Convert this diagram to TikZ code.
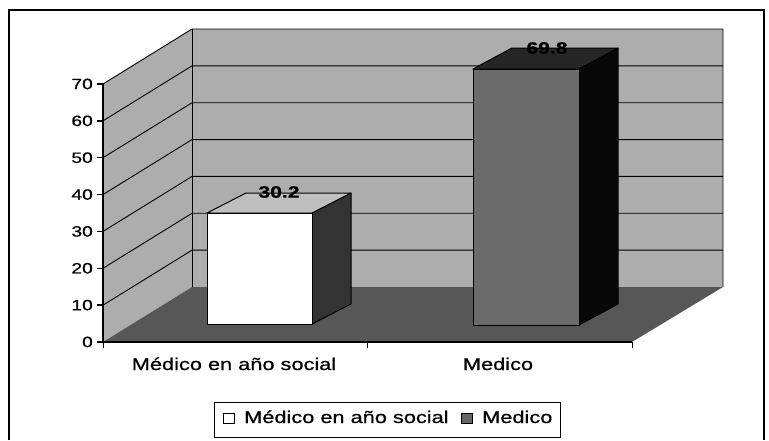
\documentclass[tikz,border=0pt]{standalone}
\usepackage{fontspec}
\setmainfont[FakeStretch=1.28,FakeBold=0.7]{Liberation Sans}
\begin{document}
\begin{tikzpicture}[x=1pt,y=-1pt,
  wall/.style={fill=black!32},
  floorc/.style={fill=black!66},
  gridl/.style={line width=0.9pt},
  axisl/.style={line width=1.3pt},
  edge/.style={line width=1pt, line join=round},
  ticklab/.style={font=\fontsize{15}{15}\selectfont, anchor=east, inner sep=0pt},
  catlab/.style={font=\fontsize{17}{17}\selectfont, anchor=base, inner sep=0pt},
  leglab/.style={font=\fontsize{17}{17}\selectfont, anchor=base west, inner sep=0pt},
  datalab/.style={font=\bfseries\fontsize{16.5}{16.5}\selectfont, inner sep=0pt},
]
\useasboundingbox (0,0) rectangle (769,440);

% outer frame
\draw[line width=1.6pt] (9,440) -- (9,10) -- (764,10) -- (764,440);

% walls and floor
\fill[wall] (103,342) -- (103,84) -- (192,29) -- (192,287) -- cycle;
\fill[wall] (192,29) rectangle (723,287);
\fill[floorc] (103,342) -- (632,342) -- (723,287) -- (192,287) -- cycle;

% gridlines
\foreach \v in {1,...,6} {
  \draw[gridl] (103,{342-\v*36.857}) -- (192,{287-\v*36.857}) -- (723,{287-\v*36.857});
}
\draw[gridl] (103,84) -- (192,29) -- (723,29) -- (723,287);
\draw[gridl] (192,29) -- (192,287);

% bar 1 (white)
\filldraw[edge, fill=black!80] (312,213) -- (351,193) -- (351,304) -- (312,324) -- cycle;
\filldraw[edge, fill=black!25] (207,213) -- (246,193) -- (351,193) -- (312,213) -- cycle;
\filldraw[edge, fill=white] (207,213) rectangle (312,324);
\node[datalab] (l1) at (279,192) {30.2};

% bar 2 (dark)
\filldraw[edge, fill=black!97] (579,69) -- (618,48) -- (618,304) -- (579,325) -- cycle;
\filldraw[edge, fill=black!85] (473,69) -- (512,48) -- (618,48) -- (579,69) -- cycle;
\filldraw[edge, fill=black!58] (473,69) rectangle (579,325);
\node[datalab] (l2) at (547,48) {69.8};

% axes
\draw[axisl] (103,84) -- (103,342) -- (632,342);
\foreach \v in {0,...,7} {
  \pgfmathtruncatemacro\lab{\v*10}
  \draw[axisl] (97,{342-\v*36.857}) -- (103,{342-\v*36.857});
  \node[ticklab] (t\v) at (93,{342-\v*36.857}) {\lab};
}
\foreach \xx in {103,367,632} {
  \draw[line width=0.8pt] (\xx,342) -- (\xx,348);
}

% category labels
\node[catlab] (c1) at (234,370) {Médico en año social};
\node[catlab] (c2) at (498,370) {Medico};

% legend
\draw[line width=0.9pt] (214,402) rectangle (560,437);
\draw[line width=0.9pt, fill=white] (223,413) rectangle (234,423);
\node[leglab] (g1) at (244,423) {Médico en año social};
\draw[line width=0.9pt, fill=black!60] (461,413) rectangle (472,423);
\node[leglab] (g2) at (482,423) {Medico};
\end{tikzpicture}
\end{document}
